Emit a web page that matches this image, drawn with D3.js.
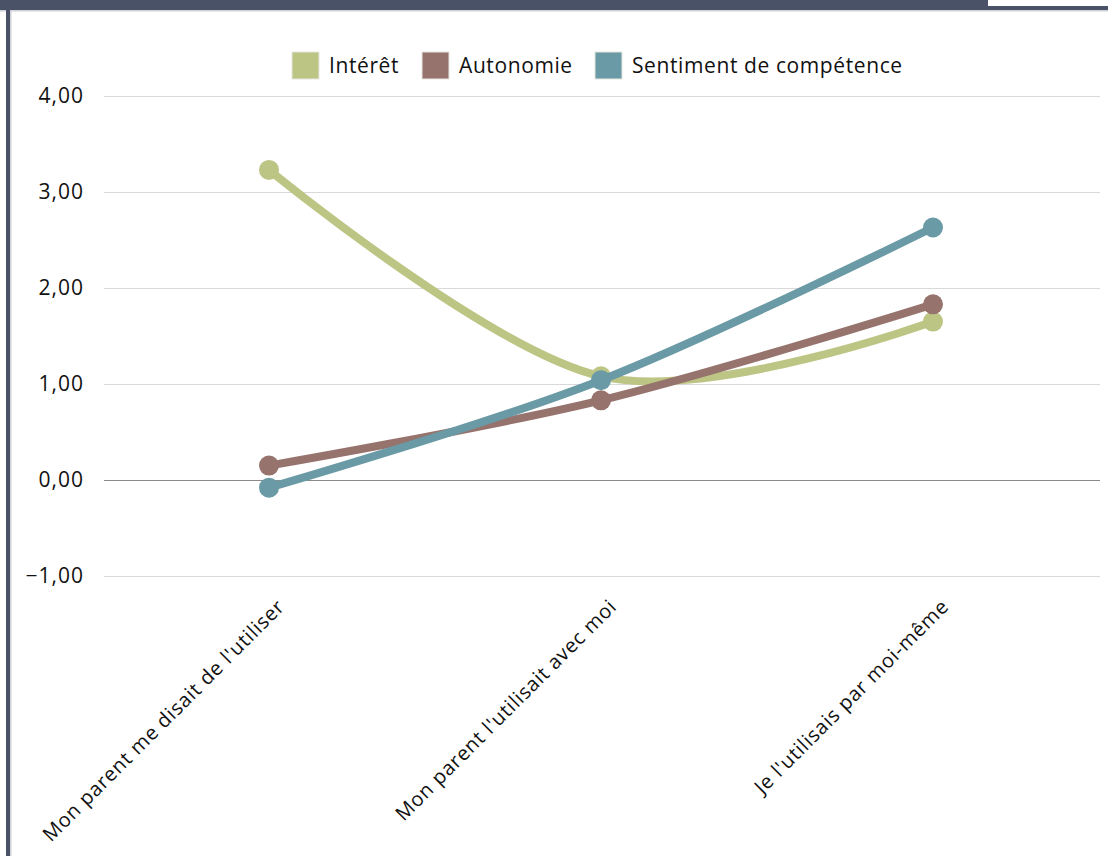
<!DOCTYPE html>
<html lang="fr">
<head>
<meta charset="utf-8">
<script src="https://cdn.jsdelivr.net/npm/d3@7"></script>
<style>
  html, body { margin: 0; padding: 0; background: #fff; }
  svg { display: block; }
  text { font-family: "Open Sans", "DejaVu Sans", sans-serif; fill: #111; }
</style>
</head>
<body>
<svg id="chart" width="1108" height="856"></svg>
<script>
// Mode d'utilisation et scores moyens
const categories = [
  "Mon parent me disait de l'utiliser",
  "Mon parent l'utilisait avec moi",
  "Je l'utilisais par moi-même"
];
const seriesNames = ["Intérêt", "Autonomie", "Sentiment de compétence"];
const interet = [3.23, 1.08, 1.65];
const autonomie = [0.15, 0.83, 1.83];
const competence = [-0.08, 1.04, 2.63];
const yTicks = [-1, 0, 1, 2, 3, 4];
const colors = ["#bdc584", "#96736d", "#6a9aa5"];

const series = [
  { name: seriesNames[0], values: interet, color: colors[0] },
  { name: seriesNames[1], values: autonomie, color: colors[1] },
  { name: seriesNames[2], values: competence, color: colors[2] }
];

const svg = d3.select("#chart");
const W = 1108, H = 856;

// Frame: top band and left border
svg.append("rect").attr("x", 0).attr("y", 0).attr("width", 988).attr("height", 10).attr("fill", "#4a5268");
svg.append("rect").attr("x", 988).attr("y", 6).attr("width", W - 988).attr("height", 4).attr("fill", "#4a5268");
svg.append("rect").attr("x", 0).attr("y", 10).attr("width", W).attr("height", 1.5).attr("fill", "#d0d2d8");
svg.append("rect").attr("x", 6).attr("y", 0).attr("width", 4).attr("height", H).attr("fill", "#4a5268");
svg.append("rect").attr("x", 10).attr("y", 10).attr("width", 1.5).attr("height", H).attr("fill", "#d0d2d8");

const x = d3.scaleBand().domain(categories).range([103, 1099]);
const y = d3.scaleLinear().domain([-1, 4]).range([576, 96]);
const fmt = v => d3.format(".2f")(v).replace(".", ",").replace("-", "\u2013");

// Gridlines
const gridG = svg.append("g");
gridG.selectAll("line").data(yTicks).join("line")
  .attr("x1", 104).attr("x2", 1100)
  .attr("y1", d => y(d)).attr("y2", d => y(d))
  .attr("stroke", d => d === 0 ? "#8a8a8a" : "#d9d9d9")
  .attr("stroke-width", 1)
  .attr("shape-rendering", "crispEdges");

// Y axis labels
const yAxis = d3.axisLeft(y).tickValues(yTicks).tickFormat(fmt).tickSize(0).tickPadding(0);
const yg = svg.append("g").attr("transform", "translate(84,0)").call(yAxis);
yg.select(".domain").remove();
yg.selectAll("text").attr("font-size", 21).attr("fill", "#111")
  .attr("letter-spacing", 1)
  .style("font-family", '"Open Sans", sans-serif');

// X axis labels (rotated)
const xAxis = d3.axisBottom(x).tickSize(0).tickPadding(0);
const xg = svg.append("g").attr("transform", "translate(0,598)").call(xAxis);
xg.select(".domain").remove();
xg.selectAll("text")
  .attr("font-size", 20).attr("fill", "#111")
  .attr("letter-spacing", 0.75)
  .style("font-family", '"Open Sans", sans-serif')
  .attr("text-anchor", "end")
  .attr("dy", "0.7em")
  .attr("transform", "translate(7,0) rotate(-45)");

// Lines with smoothing
const line = d3.line()
  .x((d, i) => x(categories[i]) + x.bandwidth() / 2)
  .y(d => y(d))
  .curve(d3.curveCatmullRom.alpha(0));

const plot = svg.append("g");
series.forEach(s => {
  plot.append("path")
    .attr("d", line(s.values))
    .attr("fill", "none")
    .attr("stroke", s.color)
    .attr("stroke-width", 8)
    .attr("stroke-linecap", "round");
  plot.selectAll(null).data(s.values).join("circle")
    .attr("cx", (d, i) => x(categories[i]) + x.bandwidth() / 2)
    .attr("cy", d => y(d))
    .attr("r", 10)
    .attr("fill", s.color);
});

// Legend
const legendX = [292, 422, 595];
const leg = svg.append("g");
series.forEach((s, i) => {
  const g = leg.append("g").attr("transform", `translate(${legendX[i]},52)`);
  g.append("rect").attr("width", 27).attr("height", 27).attr("fill", s.color)
    .attr("stroke", "#e6e6e0").attr("stroke-width", 1);
  g.append("text").attr("x", 37).attr("y", 21).attr("font-size", 21)
    .attr("letter-spacing", 0.6).text(s.name);
});
</script>
</body>
</html>
